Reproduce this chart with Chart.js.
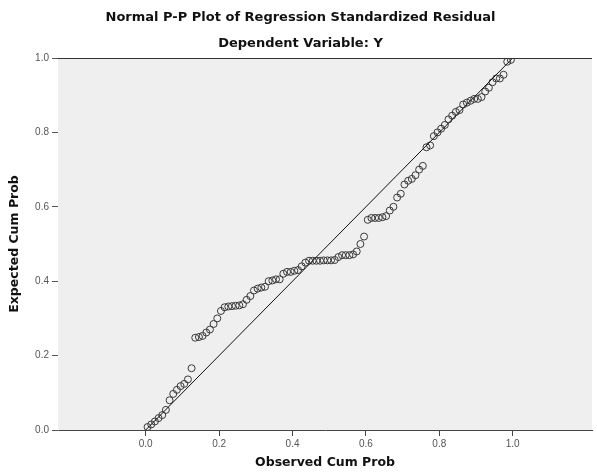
<!DOCTYPE html>
<html lang="en">
<head>
    <meta charset="UTF-8">
    <title>Normal P-P Plot of Regression Standardized Residual</title>
    <style>
        * {
            margin: 0;
            padding: 0;
            box-sizing: border-box;
        }

        body {
            background-color: #ffffff;
            overflow: hidden;
        }

        /* Chart holder, same size as the window */
        .chart-box {
            position: relative;
            width: 597px;
            height: 472px;
        }
    </style>
</head>
<body>

<div class="chart-box">
    <canvas id="ppChart"></canvas>
</div>

<script src="https://cdn.jsdelivr.net/npm/chart.js"></script>
<script>
    // Data
    const observedCumProb = [
        0.005, 0.015, 0.025, 0.035, 0.045, 0.055, 0.065, 0.075, 0.085, 0.095,
        0.105, 0.115, 0.125, 0.135, 0.145, 0.155, 0.165, 0.175, 0.185, 0.195,
        0.205, 0.215, 0.225, 0.235, 0.245, 0.255, 0.265, 0.275, 0.285, 0.295,
        0.305, 0.315, 0.325, 0.335, 0.345, 0.355, 0.365, 0.375, 0.385, 0.395,
        0.405, 0.415, 0.425, 0.435, 0.445, 0.455, 0.465, 0.475, 0.485, 0.495,
        0.505, 0.515, 0.525, 0.535, 0.545, 0.555, 0.565, 0.575, 0.585, 0.595,
        0.605, 0.615, 0.625, 0.635, 0.645, 0.655, 0.665, 0.675, 0.685, 0.695,
        0.705, 0.715, 0.725, 0.735, 0.745, 0.755, 0.765, 0.775, 0.785, 0.795,
        0.805, 0.815, 0.825, 0.835, 0.845, 0.855, 0.865, 0.875, 0.885, 0.895,
        0.905, 0.915, 0.925, 0.935, 0.945, 0.955, 0.965, 0.975, 0.985, 0.995
    ];
    const expectedCumProb = [
        0.008, 0.015, 0.023, 0.032, 0.040, 0.054, 0.080, 0.097, 0.108, 0.118,
        0.124, 0.136, 0.166, 0.248, 0.250, 0.253, 0.262, 0.270, 0.285, 0.300,
        0.320, 0.330, 0.332, 0.333, 0.334, 0.335, 0.338, 0.350, 0.360, 0.375,
        0.380, 0.383, 0.385, 0.400, 0.402, 0.405, 0.405, 0.420, 0.425, 0.425,
        0.428, 0.430, 0.440, 0.450, 0.455, 0.455, 0.455, 0.455, 0.456, 0.456,
        0.456, 0.457, 0.465, 0.470, 0.470, 0.470, 0.472, 0.480, 0.500, 0.520,
        0.565, 0.570, 0.570, 0.570, 0.572, 0.575, 0.590, 0.600, 0.625, 0.635,
        0.660, 0.670, 0.675, 0.685, 0.700, 0.710, 0.760, 0.765, 0.790, 0.800,
        0.810, 0.820, 0.835, 0.845, 0.855, 0.860, 0.875, 0.880, 0.885, 0.890,
        0.890, 0.895, 0.910, 0.920, 0.935, 0.945, 0.945, 0.955, 0.990, 0.995
    ];
    // Reference diagonal ends
    const diagonalX = [0, 1];
    const diagonalY = [0, 1];

    // Tick labels
    const xTicks = [0, 0.2, 0.4, 0.6, 0.8, 1.0];
    const yTicks = [0, 0.2, 0.4, 0.6, 0.8, 1.0];

    const points = observedCumProb.map((x, i) => ({ x: x, y: expectedCumProb[i] }));
    const diagonal = diagonalX.map((x, i) => ({ x: x, y: diagonalY[i] }));

    // Gray plot background and the top frame line
    const plotFrame = {
        id: 'plotFrame',
        beforeDatasetsDraw(chart) {
            const a = chart.chartArea;
            const ctx = chart.ctx;
            ctx.save();
            ctx.fillStyle = '#efefef';
            ctx.fillRect(a.left, a.top, a.right - a.left, a.bottom - a.top);
            ctx.restore();
        },
        afterDraw(chart) {
            const a = chart.chartArea;
            const ctx = chart.ctx;
            ctx.save();
            ctx.strokeStyle = '#333';
            ctx.lineWidth = 1;
            ctx.beginPath();
            ctx.moveTo(a.left, a.top + 0.5);
            ctx.lineTo(a.right, a.top + 0.5);
            ctx.stroke();
            ctx.restore();
        }
    };

    const titleFont = { family: 'DejaVu Sans', size: 13, weight: 'bold' };
    const axisTitleFont = { family: 'DejaVu Sans', size: 12.5, weight: 'bold' };
    const tickFont = { family: 'Liberation Sans', size: 10 };

    const ctx = document.getElementById('ppChart').getContext('2d');
    const ppChart = new Chart(ctx, {
        type: 'scatter',
        data: {
            datasets: [{
                type: 'line',
                data: diagonal,
                borderColor: '#111',
                borderWidth: 1,
                pointRadius: 0,
                fill: false
            }, {
                data: points,
                pointStyle: 'circle',
                pointRadius: 3.5,
                borderColor: '#3a3a3a',
                backgroundColor: 'rgba(0,0,0,0)',
                borderWidth: 1
            }]
        },
        options: {
            responsive: true,
            maintainAspectRatio: false,
            animation: false,
            layout: {
                padding: { left: 4, right: 0, top: 0, bottom: 2 }
            },
            plugins: {
                legend: { display: false },
                tooltip: { enabled: false },
                title: {
                    display: true,
                    text: 'Normal P-P Plot of Regression Standardized Residual',
                    color: '#111',
                    font: titleFont,
                    padding: { top: 10, bottom: 5 }
                },
                subtitle: {
                    display: true,
                    text: 'Dependent Variable: Y',
                    color: '#111',
                    font: titleFont,
                    padding: { top: 5, bottom: 6.8 }
                }
            },
            scales: {
                x: {
                    type: 'linear',
                    min: -0.239,
                    max: 1.216,
                    afterBuildTicks: (scale) => {
                        scale.ticks = xTicks.map(v => ({ value: v }));
                    },
                    afterFit: (scale) => {
                        scale.height = 40;
                    },
                    ticks: {
                        color: '#555',
                        font: tickFont,
                        padding: 2,
                        maxRotation: 0,
                        autoSkip: false,
                        callback: (v) => Number(v).toFixed(1)
                    },
                    grid: {
                        drawOnChartArea: false,
                        tickLength: 6,
                        color: '#444'
                    },
                    border: { color: '#444', width: 1 },
                    title: {
                        display: true,
                        text: 'Observed Cum Prob',
                        color: '#111',
                        font: axisTitleFont,
                        padding: { top: 4, bottom: 0 }
                    }
                },
                y: {
                    min: 0,
                    max: 1,
                    afterBuildTicks: (scale) => {
                        scale.ticks = yTicks.map(v => ({ value: v }));
                    },
                    afterFit: (scale) => {
                        scale.width = 54;
                    },
                    ticks: {
                        color: '#555',
                        font: tickFont,
                        padding: 3,
                        callback: (v) => Number(v).toFixed(1)
                    },
                    grid: {
                        drawOnChartArea: false,
                        tickLength: 6,
                        color: '#555'
                    },
                    border: { color: '#888', width: 1 },
                    title: {
                        display: true,
                        text: 'Expected Cum Prob',
                        color: '#111',
                        font: axisTitleFont,
                        padding: { top: 3, bottom: 4 }
                    }
                }
            }
        },
        plugins: [plotFrame]
    });
</script>

</body>
</html>
